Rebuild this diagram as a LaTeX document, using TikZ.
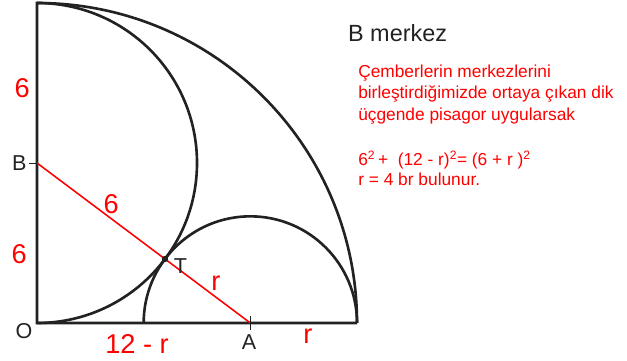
\documentclass[tikz,border=0pt]{standalone}
\usepackage{fontspec}
\setmainfont{Liberation Sans}
\usepackage{xcolor}
\definecolor{inkgray}{HTML}{222222}
\newcommand{\sz}[1]{\fontsize{#1}{#1}\selectfont}

\begin{document}
\begin{tikzpicture}[
  edge/.style={draw=inkgray, line width=2.8pt},
  radius line/.style={draw=red, line width=1.7pt},
  pt label/.style={text=inkgray, font=\sz{23}, inner sep=0pt},
  len label/.style={text=red, font=\sz{29}, inner sep=0pt},
  note/.style={text=red, font=\sz{18.5}, anchor=base west, inner sep=0pt}
]
  \useasboundingbox (-1.3875,-1.3875) rectangle (22.125,12.1125);

  % Points
  \coordinate (O) at (0,0);
  \coordinate (B) at (0,6);
  \coordinate (A) at (8,0);
  \coordinate (T) at (4.8,2.4);
  \coordinate (top) at (0,12);
  \coordinate (right) at (12,0);

  % Quarter circle and the two half circles
  \draw[edge] (right) -- (O) -- (top) arc (90:0:12);
  \draw[edge] (top) arc (90:-90:6);
  \draw[edge] (right) arc (0:180:4);

  % Centre line
  \draw[radius line] (B) -- (A);
  \fill[inkgray] (T) circle (0.12);
  \draw[inkgray, line width=1pt] (B) -- ++(-0.3,0);
  \draw[inkgray, line width=1pt] (A) ++(0,0.25) -- ++(0,-0.5);

  % Point labels
  \node[pt label] (lblO) at (-0.49,-0.3) {O};
  \node[pt label] (lblB) at (-0.66,6) {B};
  \node[pt label] (lblT) at (5.38,2.12) {T};
  \node[pt label] (lblA) at (7.95,-0.71) {A};

  % Lengths
  \node[len label] (sixup) at (-0.56,8.81) {6};
  \node[len label] (sixdown) at (-0.67,2.59) {6};
  \node[len label] (sixBT) at (2.78,4.46) {6};
  \node[len label] (rTA) at (6.71,1.5) {r};
  \node[len label] (twelve) at (3.75,-0.79) {12 - r};
  \node[len label] (rright) at (10.16,-0.49) {r};

  % Explanation
  \node[text=inkgray, font=\sz{25}, anchor=base west, inner sep=0pt] (title) at (11.66,10.55) {B merkez};
  \node[note] (line1) at (12.04,9.19) {Çemberlerin merkezlerini};
  \node[note] (line2) at (12.04,8.40) {birleştirdiğimizde ortaya çıkan dik};
  \node[note] (line3) at (12.04,7.61) {üçgende pisagor uygularsak};
  \node[note] (eq) at (12.04,5.92) {6\textsuperscript{2}\,+\ \ (12 - r)\textsuperscript{2}= (6 + r )\textsuperscript{2}};
  \node[note] (result) at (12.04,5.17) {r = 4 br bulunur.};
\end{tikzpicture}
\end{document}
